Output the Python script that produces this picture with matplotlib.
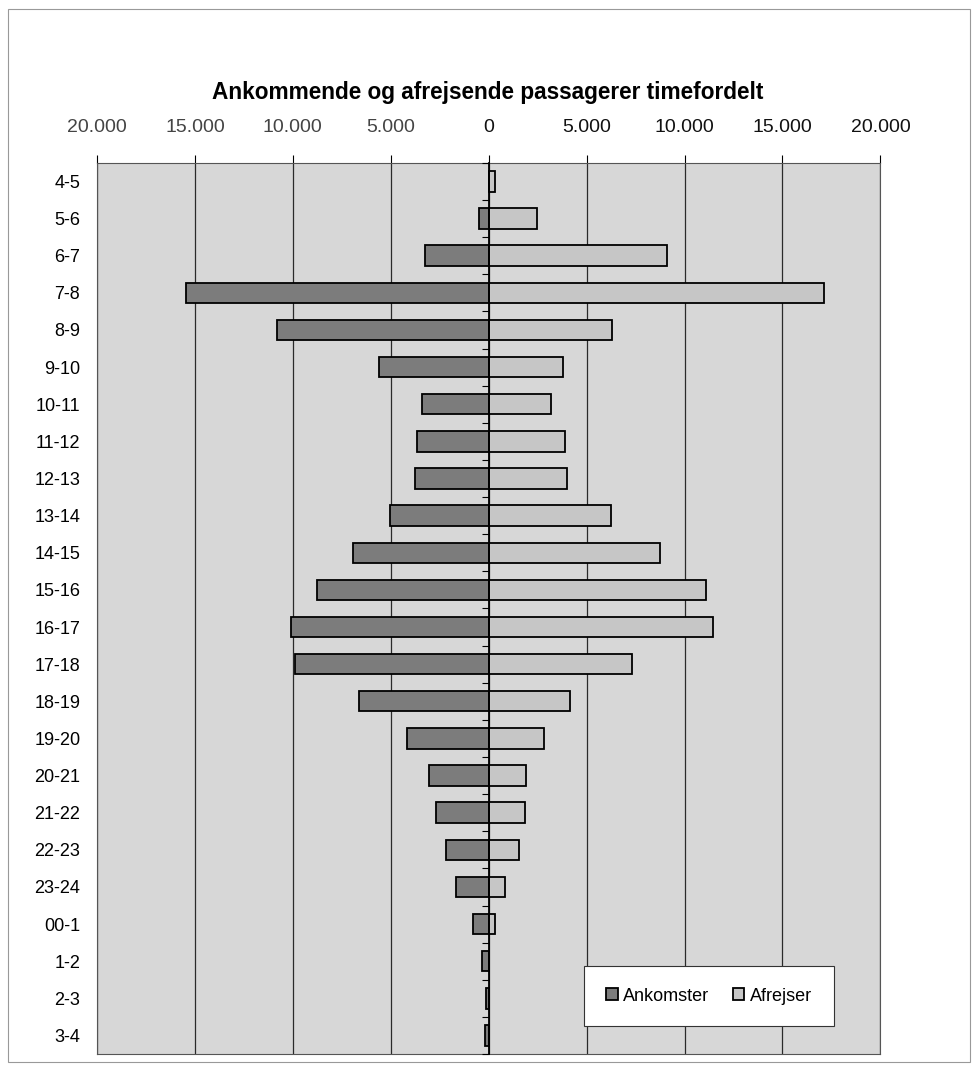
import matplotlib

matplotlib.use("Agg")
import matplotlib.pyplot as plt
import numpy as np
from matplotlib.patches import Rectangle
from matplotlib.ticker import FuncFormatter

plt.rcParams["font.family"] = ["Liberation Sans", "DejaVu Sans"]

# hour intervals, top to bottom
hours = ["4-5", "5-6", "6-7", "7-8", "8-9", "9-10", "10-11", "11-12", "12-13",
         "13-14", "14-15", "15-16", "16-17", "17-18", "18-19", "19-20", "20-21",
         "21-22", "22-23", "23-24", "00-1", "1-2", "2-3", "3-4"]
ankomster = [0, 490, 3240, 15450, 10830, 5610, 3420, 3660, 3760, 5050, 6950, 8780,
             10070, 9870, 6600, 4170, 3040, 2710, 2170, 1660, 780, 340, 120, 200]
afrejser = [300, 2460, 9090, 17130, 6290, 3815, 3190, 3885, 4020, 6260, 8760, 11070,
            11440, 7300, 4150, 2830, 1910, 1830, 1525, 850, 330, 0, 0, 0]
xticks = [-20000, -15000, -10000, -5000, 0, 5000, 10000, 15000, 20000]

fig = plt.figure(figsize=(9.75, 10.75), dpi=100)
ax = fig.add_axes([0.0995, 0.0195, 0.8035, 0.829])

y = np.arange(len(hours))
ax.set_facecolor("#d7d7d7")
ax.barh(y, [-v for v in ankomster], height=0.55, color="#7c7c7c",
        edgecolor="black", lw=1.3, label="Ankomster", zorder=3)
ax.barh(y, afrejser, height=0.55, color="#c6c6c6",
        edgecolor="black", lw=1.3, label="Afrejser", zorder=3)

ax.set_xlim(-20000, 20000)
ax.set_ylim(len(hours) - 0.5, -0.5)
ax.set_xticks(xticks)
ax.xaxis.set_major_formatter(FuncFormatter(lambda v, p: f"{abs(int(v)):,}".replace(",", ".")))
ax.xaxis.tick_top()
ax.tick_params(axis="x", direction="out", length=6, width=0.8, pad=13,
               labelsize=14, labelcolor="#444444")
for i, lab in enumerate(ax.get_xticklabels()):
    if i >= 4:
        lab.set_color("#111111")
ax.set_yticks(y)
ax.set_yticklabels(hours)
ax.tick_params(axis="y", length=0, pad=12, labelsize=13)
ax.grid(axis="x", color="#2a2a2a", lw=0.9, zorder=1)
ax.set_axisbelow(True)
for s in ax.spines.values():
    s.set_color("#555555")
    s.set_linewidth(0.8)

# centre axis with small ticks between categories
ax2 = ax.twinx()
ax2.set_ylim(ax.get_ylim())
for s in ["left", "top", "bottom"]:
    ax2.spines[s].set_visible(False)
ax2.spines["right"].set_position(("data", 0))
ax2.spines["right"].set_linewidth(1.3)
ax2.set_yticks(np.arange(len(hours) + 1) - 0.5)
ax2.tick_params(axis="y", direction="in", length=5, width=0.8, labelright=False)

leg = ax.legend(loc="center", bbox_to_anchor=(0.781, 0.065), ncol=2, fontsize=13,
                frameon=True, fancybox=False, edgecolor="#333333", framealpha=1,
                handlelength=0.65, handleheight=0.65, handletextpad=0.3,
                columnspacing=1.3, borderpad=1.2)
leg.get_frame().set_linewidth(0.8)
leg.set_zorder(5)

fig.text(0.5, 0.914, "Ankommende og afrejsende passagerer timefordelt",
         ha="center", va="center", fontsize=16.3, fontweight="bold")
fig.patches.append(Rectangle((0.008, 0.012), 0.987, 0.98, transform=fig.transFigure,
                             fill=False, edgecolor="#999999", lw=0.8))

fig.savefig("out.png", dpi=100)
